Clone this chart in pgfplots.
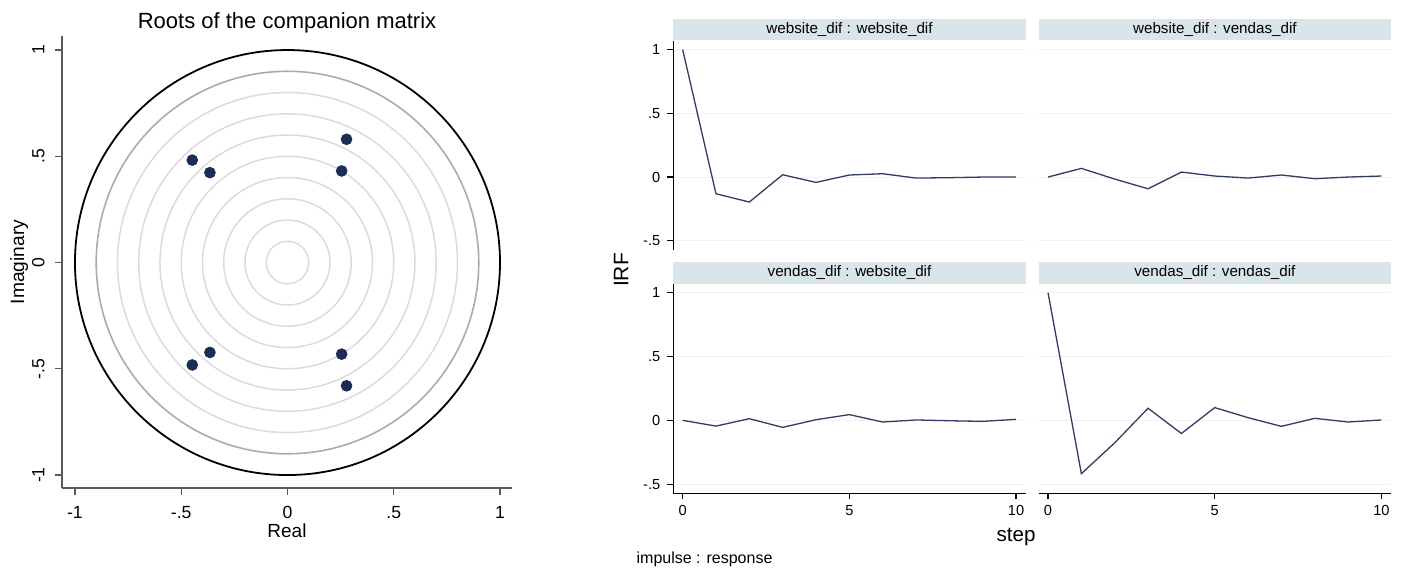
\documentclass[border=0pt]{standalone}
\usepackage{fontspec}
\setmainfont{Liberation Sans}
\usepackage{pgfplots}
\pgfplotsset{compat=1.18}
\definecolor{navy}{RGB}{28,44,88}
\definecolor{linecol}{RGB}{48,60,100}
\definecolor{stripcol}{RGB}{217,229,234}
\newcommand{\fs}[1]{\fontsize{#1}{#1}\selectfont}
\pgfplotsset{
  every axis title shift=0pt,
  irf/.style={
    scale only axis, width=176.2pt, height=104.65pt, anchor=south west,
    xmin=-0.28, xmax=10.29, ymin=-0.572, ymax=1.069,
    axis lines*=left, axis line style={black, line width=0.7pt, -},
    tick align=outside, major tick length=3pt, tick style={black, line width=0.6pt},
    xtick={0,5,10}, xticklabels={0,5,10},
    ytick={-0.5,0,0.5,1}, yticklabels={-.5,0,.5,1},
    ticklabel style={font=\fs{7.3pt}},
    xticklabel style={anchor=base, yshift=-7.85pt},
    ymajorgrids, major grid style={black!5, line width=0.5pt},
    title style={at={(0.5,1)}, anchor=south, fill=stripcol, minimum width=176.2pt,
      minimum height=10.85pt, inner sep=0pt, font=\fs{7.6pt}},
    clip=false,
  },
  noxaxis/.style={x axis line style={draw=none}, xtick style={draw=none}, xticklabels={}},
  noyaxis/.style={y axis line style={draw=none}, ytick style={draw=none}, yticklabels={}},
}
\begin{document}
\begin{tikzpicture}
\useasboundingbox (0pt,0pt) rectangle (701pt,285pt);

\begin{axis}[
  at={(31pt,41pt)}, anchor=south west, scale only axis,
  width=225pt, height=226pt,
  xmin=-1.061, xmax=1.0565, ymin=-1.061, ymax=1.066,
  axis lines*=left, axis line style={black!65, line width=0.7pt, -},
  tick align=outside, major tick length=3.5pt,
  tick style={black!65, line width=0.7pt},
  xtick={-1,-0.5,0,0.5,1}, xticklabels={-1,-.5,0,.5,1},
  ytick={-1,-0.5,0,0.5,1}, yticklabels={-1,-.5,0,.5,1},
  ticklabel style={font=\fs{8.8pt}},
  xticklabel style={anchor=base, yshift=-11.5pt},
  yticklabel style={rotate=90, anchor=base, yshift=5.25pt},
  title={Roots of the companion matrix},
  title style={font=\fs{11pt}, at={(0.5,1)}, anchor=base, yshift=3.8pt},
  xlabel={Real},
  xlabel style={font=\fs{9.5pt}, at={(axis description cs:0.5,0)}, anchor=base, yshift=-24.75pt},
  ylabel={Imaginary},
  ylabel style={font=\fs{9.6pt}, at={(axis description cs:-0.0844,0.5)}, anchor=base},
  clip=false,
]
\draw[black!14, line width=0.75pt] (axis cs:0,0) circle[radius=0.1];
\draw[black!14, line width=0.75pt] (axis cs:0,0) circle[radius=0.2];
\draw[black!14, line width=0.75pt] (axis cs:0,0) circle[radius=0.3];
\draw[black!14, line width=0.75pt] (axis cs:0,0) circle[radius=0.4];
\draw[black!14, line width=0.75pt] (axis cs:0,0) circle[radius=0.5];
\draw[black!14, line width=0.75pt] (axis cs:0,0) circle[radius=0.6];
\draw[black!14, line width=0.75pt] (axis cs:0,0) circle[radius=0.7];
\draw[black!14, line width=0.75pt] (axis cs:0,0) circle[radius=0.8];
\draw[black!33, line width=0.8pt] (axis cs:0,0) circle[radius=0.9];
\draw[black, line width=0.9pt] (axis cs:0,0) circle[radius=1];
\addplot[only marks, mark=*, mark size=2.7pt, color=navy, mark options={draw=navy, fill=navy}]
  coordinates {(0.278,0.580)(0.278,-0.580)(0.255,0.431)(0.255,-0.431)
               (-0.448,0.482)(-0.448,-0.482)(-0.365,0.423)(-0.365,-0.423)};
\end{axis}

% top-left
\begin{axis}[irf, noxaxis, at={(336.65pt,160pt)},
  title={website\_dif : website\_dif},
  ylabel={IRF},
  ylabel style={font=\fs{10.5pt}, at={(axis description cs:-0.1277,-0.0956)}, anchor=base},
]
\addplot[linecol, line width=0.65pt] coordinates {(0,1)(1,-0.131)(2,-0.196)(3,0.018)(4,-0.042)(5,0.016)(6,0.026)(7,-0.008)(8,-0.005)(9,0)(10,0)};
\end{axis}

% top-right
\begin{axis}[irf, noxaxis, noyaxis, at={(519.35pt,160pt)},
  title={website\_dif : vendas\_dif},
]
\addplot[linecol, line width=0.65pt] coordinates {(0,0)(1,0.068)(2,-0.016)(3,-0.092)(4,0.039)(5,0.008)(6,-0.008)(7,0.016)(8,-0.013)(9,0)(10,0.008)};
\end{axis}

% bottom-left
\begin{axis}[irf, at={(336.65pt,38.35pt)},
  title={vendas\_dif : website\_dif},
  xlabel={step},
  xlabel style={font=\fs{10.3pt}, at={(axis description cs:0.9725,-0.2316)}, anchor=base},
]
\addplot[linecol, line width=0.65pt] coordinates {(0,0)(1,-0.045)(2,0.013)(3,-0.055)(4,0.005)(5,0.045)(6,-0.013)(7,0.003)(8,-0.003)(9,-0.008)(10,0.008)};
\node[anchor=base west, font=\fs{8pt}] at (axis description cs:-0.124,-0.335) {impulse : response};
\end{axis}

% bottom-right
\begin{axis}[irf, noyaxis, at={(519.35pt,38.35pt)},
  title={vendas\_dif : vendas\_dif},
]
\addplot[linecol, line width=0.65pt] coordinates {(0,1)(1,-0.418)(2,-0.176)(3,0.095)(4,-0.103)(5,0.1)(6,0.021)(7,-0.047)(8,0.016)(9,-0.013)(10,0.003)};
\end{axis}
\end{tikzpicture}
\end{document}
